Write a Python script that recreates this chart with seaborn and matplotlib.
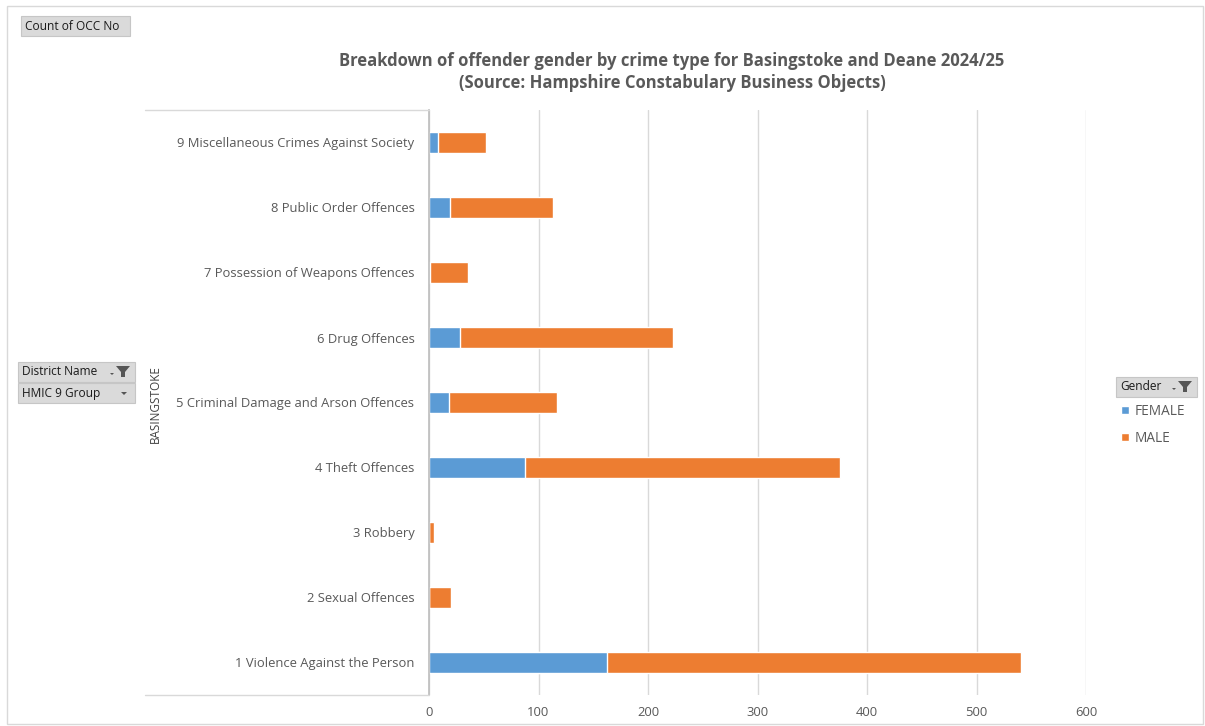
import matplotlib
matplotlib.use("Agg")
import matplotlib.pyplot as plt
import seaborn as sns
import pandas as pd
from matplotlib.patches import Rectangle, Polygon

categories = [
    "9 Miscellaneous Crimes Against Society",
    "8 Public Order Offences",
    "7 Possession of Weapons Offences",
    "6 Drug Offences",
    "5 Criminal Damage and Arson Offences",
    "4 Theft Offences",
    "3 Robbery",
    "2 Sexual Offences",
    "1 Violence Against the Person",
]
female = [8, 19, 1, 28, 18, 88, 0, 0, 163]
male = [44, 94, 35, 195, 99, 287, 5, 20, 378]
x_ticks = [0, 100, 200, 300, 400, 500, 600]

title = ("Breakdown of offender gender by crime type for Basingstoke and Deane 2024/25\n"
         "(Source: Hampshire Constabulary Business Objects)")

sns.set_theme(style="white")
plt.rcParams["font.family"] = ["Open Sans", "DejaVu Sans"]

W, H = 1205, 726
fig = plt.figure(figsize=(W / 100, H / 100), dpi=100)

def fx(px):
    return px / W

def fy(py):
    return 1 - py / H

df = pd.DataFrame({"cat": categories, "female": female, "male": male})
df["total"] = df["female"] + df["male"]

ax = fig.add_axes([fx(429), fy(695), fx(1086) - fx(429), fy(110) - fy(695)])
BLUE = "#5b9bd5"
ORANGE = "#ed7d31"
sns.barplot(data=df, x="total", y="cat", order=categories, color=ORANGE,
            width=0.31, ax=ax, label="MALE", saturation=1)
sns.barplot(data=df, x="female", y="cat", order=categories, color=BLUE,
            width=0.31, ax=ax, label="FEMALE", saturation=1)
ax.set_xlim(0, 600)
ax.set_xticks(x_ticks)
ax.set_xticklabels([str(t) for t in x_ticks])
ax.set_xlabel("")
ax.set_ylabel("")
ax.grid(axis="x", color="#d9d9d9", linewidth=1)
ax.set_axisbelow(True)
for s in ["top", "right", "bottom"]:
    ax.spines[s].set_visible(False)
ax.spines["left"].set_color("#bfbfbf")
ax.tick_params(axis="both", length=0, colors="#595959", labelsize=9.4)
ax.tick_params(axis="x", pad=8)
ax.tick_params(axis="y", pad=10.5)
if ax.get_legend() is not None:
    ax.get_legend().remove()

# category-axis frame lines
fig.add_artist(plt.Line2D([fx(145), fx(429)], [fy(110), fy(110)], color="#d9d9d9", lw=1))
fig.add_artist(plt.Line2D([fx(145), fx(429)], [fy(695), fy(695)], color="#d9d9d9", lw=1))

# outer border
fig.add_artist(Rectangle((fx(7), fy(724)), fx(1203) - fx(7), fy(6) - fy(724),
                         fill=False, edgecolor="#d9d9d9", lw=1))

fig.text(fx(672), fy(72), title, ha="center", va="center", fontsize=12,
         fontweight="bold", color="#595959", linespacing=1.35)

fig.text(fx(155), fy(404), "BASINGSTOKE", rotation=90, ha="center", va="center",
         fontsize=8.5, color="#404040")

def button(x0, y0, x1, y1, label, icon=None):
    fig.add_artist(Rectangle((fx(x0), fy(y1)), fx(x1) - fx(x0), fy(y0) - fy(y1),
                             facecolor="#dadada", edgecolor="#c6c6c6", lw=0.8))
    fig.text(fx(x0 + 4), fy((y0 + y1) / 2), label, ha="left", va="center",
             fontsize=8.6, color="#1a1a1a")
    cy = (y0 + y1) / 2
    if icon == "filter":
        fig.add_artist(Polygon([(fx(x1 - 19), fy(cy - 6)), (fx(x1 - 5), fy(cy - 6)),
                                (fx(x1 - 10), fy(cy)), (fx(x1 - 10), fy(cy + 5)),
                                (fx(x1 - 14), fy(cy + 5)), (fx(x1 - 14), fy(cy))],
                               closed=True, facecolor="#555555", edgecolor="none"))
        fig.add_artist(Polygon([(fx(x1 - 25), fy(cy + 1)), (fx(x1 - 21), fy(cy + 1)),
                                (fx(x1 - 23), fy(cy + 3))], closed=True,
                               facecolor="#555555", edgecolor="none"))
    elif icon == "drop":
        fig.add_artist(Polygon([(fx(x1 - 14), fy(cy - 1)), (fx(x1 - 8), fy(cy - 1)),
                                (fx(x1 - 11), fy(cy + 2))], closed=True,
                               facecolor="#555555", edgecolor="none"))

button(21, 16, 130, 36, "Count of OCC No")
button(18, 362, 135, 382, "District Name", "filter")
button(18, 383, 135, 403, "HMIC 9 Group", "drop")
button(1116, 377, 1197, 397, "Gender", "filter")

handles, labels = ax.get_legend_handles_labels()
hmap = dict(zip(labels, handles))
leg = fig.legend([hmap["FEMALE"], hmap["MALE"]], ["FEMALE", "MALE"],
                 loc="upper left", bbox_to_anchor=(fx(1118), fy(401)),
                 frameon=False, handlelength=0.6, handleheight=0.6,
                 handletextpad=0.45, labelspacing=0.9, fontsize=9.8,
                 borderaxespad=0, borderpad=0.2)
for t in leg.get_texts():
    t.set_color("#595959")

fig.savefig("out.png", dpi=100)
